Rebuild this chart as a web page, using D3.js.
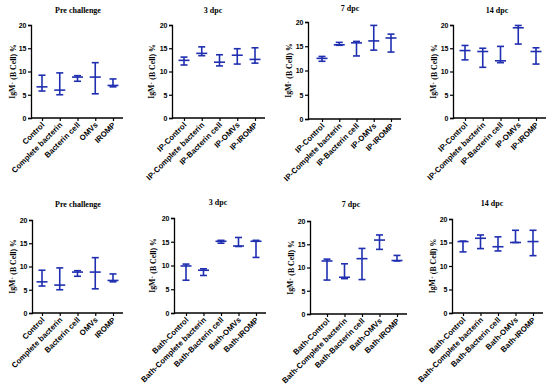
<!DOCTYPE html>
<html>
<head>
<meta charset="utf-8">
<script src="https://cdn.jsdelivr.net/npm/d3@7"></script>
<style>
  body { margin: 0; background: #fff; }
  .tick text { font-family: Arial, "Liberation Sans", sans-serif; font-weight: bold; font-size: 7px; }
  .xcat .tick text { font-size: 7.8px; }
</style>
</head>
<body>
<svg id="chart" width="550" height="386"></svg>
<script>
const width = 550;
const height = 386;
const blue = '#1f2fb0';

// groups per panel
const preGroups = ['Control', 'Complete bacterin', 'Bacterin cell', 'OMVs', 'IROMP'];
const ipGroups = ['IP-Control', 'IP-Complete bacterin', 'IP-Bacterin cell', 'IP-OMVs', 'IP-IROMP'];
const bathGroups = ['Bath-Control', 'Bath-Complete bacterin', 'Bath-Bacterin cell', 'Bath-OMVs', 'Bath-IROMP'];

const yTicks = [0, 5, 10, 15, 20];

// min / max / mean for each group
const preMin = [5.8, 5.0, 7.9, 5.2, 6.7];
const preMax = [9.2, 9.7, 9.1, 11.9, 8.4];
const preMean = [6.7, 6.0, 8.8, 8.8, 7.0];

const ip3Min = [11.4, 13.4, 11.2, 11.6, 11.8];
const ip3Max = [13.1, 15.3, 13.6, 14.9, 15.1];
const ip3Mean = [12.4, 13.9, 12.0, 13.5, 12.6];

const ip7Min = [11.9, 15.2, 13.0, 14.2, 13.8];
const ip7Max = [12.9, 15.8, 16.0, 19.3, 17.5];
const ip7Mean = [12.5, 15.3, 15.7, 16.1, 16.7];

const ip14Min = [12.5, 10.9, 11.9, 15.9, 11.6];
const ip14Max = [15.6, 15.0, 15.4, 19.9, 15.1];
const ip14Mean = [14.5, 14.3, 12.3, 19.4, 14.3];

const bath3Min = [6.9, 7.9, 14.7, 14.0, 11.7];
const bath3Max = [10.3, 9.3, 15.3, 15.9, 15.3];
const bath3Mean = [9.9, 9.0, 15.1, 14.1, 15.1];

const bath7Min = [7.3, 7.6, 7.4, 13.9, 11.4];
const bath7Max = [11.8, 10.8, 14.1, 17.0, 12.6];
const bath7Mean = [11.4, 7.9, 11.9, 15.9, 11.5];

const bath14Min = [13.0, 13.7, 13.2, 15.0, 12.2];
const bath14Max = [15.3, 16.6, 16.2, 17.6, 17.6];
const bath14Mean = [15.2, 15.9, 14.1, 15.0, 15.2];

const svg = d3.select('#chart');

const panels = [
  {title: 'Pre challenge', groups: preGroups, min: preMin, max: preMax, mean: preMean,
   left: 31, top: 25, bottom: 118, c0: 42, c4: 113, tx: 78, ty: 13, lx: 12},
  {title: '3 dpc', groups: ipGroups, min: ip3Min, max: ip3Max, mean: ip3Mean,
   left: 172, top: 25, bottom: 118, c0: 184, c4: 255, tx: 213, ty: 13, lx: 151},
  {title: '7 dpc', groups: ipGroups, min: ip7Min, max: ip7Max, mean: ip7Mean,
   left: 308, top: 22, bottom: 119, c0: 322, c4: 391, tx: 350, ty: 11, lx: 288},
  {title: '14 dpc', groups: ipGroups, min: ip14Min, max: ip14Max, mean: ip14Mean,
   left: 453, top: 25, bottom: 118, c0: 465, c4: 536, tx: 497, ty: 13, lx: 433},
  {title: 'Pre challenge', groups: preGroups, min: preMin, max: preMax, mean: preMean,
   left: 32, top: 220, bottom: 313, c0: 42, c4: 113, tx: 78, ty: 207, lx: 12},
  {title: '3 dpc', groups: bathGroups, min: bath3Min, max: bath3Max, mean: bath3Mean,
   left: 174, top: 218, bottom: 313, c0: 186, c4: 256, tx: 218, ty: 205, lx: 152},
  {title: '7 dpc', groups: bathGroups, min: bath7Min, max: bath7Max, mean: bath7Mean,
   left: 310, top: 221, bottom: 314, c0: 327, c4: 397, tx: 351, ty: 207, lx: 290},
  {title: '14 dpc', groups: bathGroups, min: bath14Min, max: bath14Max, mean: bath14Mean,
   left: 452, top: 219, bottom: 313, c0: 463, c4: 533, tx: 492, ty: 206, lx: 432}
];

panels.forEach(p => drawPanel(p));

function drawPanel(p) {
  const g = svg.append('g');
  const xEnd = p.c4 + 10;

  const x = d3.scalePoint()
    .domain(p.groups)
    .range([p.c0, p.c4]);

  const y = d3.scaleLinear()
    .domain([0, 20])
    .range([p.bottom, p.top]);

  // y axis
  const yAxis = d3.axisLeft(y).tickValues(yTicks).tickSize(3).tickPadding(1.5);
  const ya = g.append('g')
    .attr('transform', `translate(${p.left},0)`)
    .call(yAxis);
  ya.select('.domain').attr('stroke', '#000').attr('stroke-width', 1.3);
  ya.selectAll('.tick line').attr('stroke-width', 1.2);

  // x axis
  const xAxis = d3.axisBottom(x).tickSize(3).tickFormat(d => d);
  const xa = g.append('g')
    .attr('class', 'xcat')
    .attr('transform', `translate(0,${p.bottom})`)
    .call(xAxis);
  xa.select('.domain')
    .attr('d', `M${p.left},0H${xEnd}`)
    .attr('stroke', '#000').attr('stroke-width', 1.3);
  xa.selectAll('.tick line').attr('stroke-width', 1.2);
  xa.selectAll('.tick text')
    .attr('text-anchor', 'end')
    .attr('dy', 0)
    .attr('y', 0)
    .attr('transform', 'translate(2.5,7.5) rotate(-45)');

  // title
  g.append('text')
    .attr('x', p.tx)
    .attr('y', p.ty)
    .attr('text-anchor', 'middle')
    .style('font-family', '"Liberation Serif", "Times New Roman", serif')
    .style('font-weight', 'bold')
    .style('font-size', '8px')
    .text(p.title);

  // y label
  const lab = g.append('text')
    .attr('transform', `translate(${p.lx},${(p.top + p.bottom) / 2}) rotate(-90)`)
    .attr('text-anchor', 'middle')
    .attr('dy', '0.35em')
    .style('font-family', '"Liberation Serif", "Times New Roman", serif')
    .style('font-weight', 'bold')
    .style('font-size', '7.8px');
  lab.append('tspan').text('IgM');
  lab.append('tspan').attr('dy', '-0.4em').style('font-size', '5px').text('+');
  lab.append('tspan').attr('dy', '0.4em').text(' (B Cell) %');

  // floating min-max bars with mean line
  const marks = g.append('g')
    .attr('stroke', blue)
    .attr('stroke-width', 1.6)
    .attr('fill', 'none');

  p.groups.forEach((grp, i) => {
    const cx = x(grp);
    marks.append('line')
      .attr('x1', cx).attr('x2', cx)
      .attr('y1', y(p.min[i])).attr('y2', y(p.max[i]));
    marks.append('line')
      .attr('x1', cx - 3.5).attr('x2', cx + 3.5)
      .attr('y1', y(p.min[i])).attr('y2', y(p.min[i]));
    marks.append('line')
      .attr('x1', cx - 3.5).attr('x2', cx + 3.5)
      .attr('y1', y(p.max[i])).attr('y2', y(p.max[i]));
    marks.append('line')
      .attr('x1', cx - 5.5).attr('x2', cx + 5.5)
      .attr('y1', y(p.mean[i])).attr('y2', y(p.mean[i]));
  });
}
</script>
</body>
</html>
